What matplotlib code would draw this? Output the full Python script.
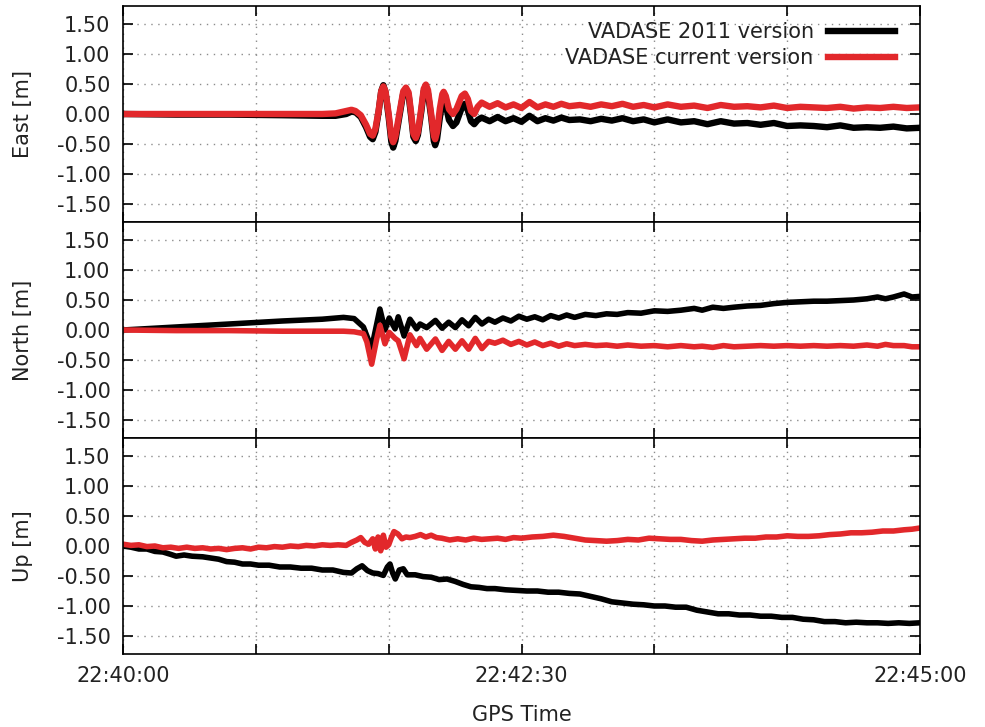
import matplotlib
matplotlib.use('Agg')
import matplotlib.pyplot as plt
from matplotlib.ticker import FormatStrFormatter

plt.rcParams['font.family'] = ['DejaVu Sans']
plt.rcParams['axes.unicode_minus'] = False

RED = '#e2282b'
BLACK = '#000000'
TXT = '#222222'

# ---- East ----
t_east = [0, 20, 40, 60, 75, 80, 84, 86, 87.5, 89.5, 91.5, 93, 94, 95, 96.2, 97.2, 98, 98.8, 100,
          101, 101.7, 102.5, 104, 105.5, 106.5, 107.5, 108.5, 109.3, 110.2, 111, 112.3, 113.2, 114,
          114.8, 116, 117, 117.5, 118.2, 119.3, 120.2, 120.7, 121.5, 122.7, 124.2, 125.5, 127.5,
          128.7, 129.8, 131, 132.2, 133.5,
          135, 138, 141, 144, 147, 150, 153, 156, 159, 162, 165, 168, 172, 176, 180, 184, 188, 192,
          196, 200, 205, 210, 215, 220, 225, 230, 235, 240, 245, 250, 255, 260, 265, 270, 275, 280,
          285, 290, 295, 300]
east_2011 = [0, -0.01, -0.01, -0.02, -0.03, -0.03, 0.0, 0.04, 0.03, -0.05, -0.22, -0.38, -0.42,
             -0.30, 0.03, 0.38, 0.48, 0.36, -0.05, -0.46, -0.56, -0.45, -0.05, 0.35, 0.42, 0.32,
             -0.05, -0.38, -0.45, -0.35, 0.05, 0.38, 0.45, 0.34, -0.05, -0.45, -0.52, -0.42, -0.05,
             0.20, 0.25, 0.15, -0.10, -0.20, -0.14, 0.10, 0.17, 0.06, -0.12, -0.17, -0.10,
             -0.06, -0.12, -0.05, -0.12, -0.07, -0.13, -0.03, -0.12, -0.07, -0.11, -0.06, -0.10, -0.09,
             -0.12, -0.08, -0.11, -0.07, -0.12, -0.09, -0.14, -0.09, -0.14, -0.12, -0.17, -0.12, -0.16,
             -0.15, -0.18, -0.15, -0.20, -0.19, -0.20, -0.22, -0.19, -0.23, -0.22, -0.23, -0.21, -0.24,
             -0.23]
east_cur = [0, 0, 0, 0, 0, 0.01, 0.05, 0.07, 0.05, -0.02, -0.18, -0.33, -0.36, -0.25, 0.05, 0.38,
            0.46, 0.38, 0.0, -0.38, -0.47, -0.38, 0.0, 0.38, 0.44, 0.36, 0.0, -0.33, -0.40, -0.30,
            0.10, 0.42, 0.49, 0.40, 0.0, -0.36, -0.42, -0.30, 0.10, 0.33, 0.37, 0.30, 0.08, 0.0, 0.08,
            0.30, 0.34, 0.25, 0.05, 0.0, 0.12,
            0.19, 0.12, 0.18, 0.11, 0.16, 0.10, 0.20, 0.11, 0.16, 0.12, 0.17, 0.13, 0.15, 0.12, 0.16,
            0.13, 0.17, 0.12, 0.15, 0.11, 0.16, 0.12, 0.14, 0.10, 0.15, 0.12, 0.13, 0.11, 0.14, 0.10,
            0.12, 0.11, 0.10, 0.12, 0.09, 0.11, 0.10, 0.12, 0.10, 0.11]

# ---- North ----
t_north = [0, 20, 40, 60, 75, 83, 87, 90.5, 91.8, 93.6, 95.5, 96.7, 98.6, 100.2, 102.4, 103.6, 105.8,
           108, 110.5, 111.8, 114.3, 117.6, 120.1, 122.6, 125.1, 127.6, 130.1, 132.6, 135.1, 137.6,
           140, 143, 146, 149, 152, 155, 158, 161, 164, 167, 170, 174, 178, 182, 186, 190, 195, 200,
           205, 210, 215, 218, 222, 226, 230, 235, 240, 245, 250, 255, 260, 265, 270, 275, 280, 284,
           287, 290, 294, 297, 300]
north_2011 = [0, 0.05, 0.10, 0.15, 0.18, 0.21, 0.19, 0.05, -0.10, -0.30, 0.10, 0.35, 0.0, 0.20, 0.02,
              0.22, -0.10, 0.18, 0.02, 0.10, 0.04, 0.16, 0.03, 0.13, 0.04, 0.17, 0.07, 0.21, 0.10,
              0.18,
              0.13, 0.20, 0.15, 0.23, 0.18, 0.22, 0.17, 0.24, 0.20, 0.25, 0.21, 0.26, 0.24, 0.27, 0.26,
              0.29, 0.28, 0.32, 0.31, 0.33, 0.36, 0.33, 0.38, 0.36, 0.38, 0.40, 0.41, 0.44, 0.46, 0.47,
              0.48, 0.48, 0.49, 0.50, 0.52, 0.55, 0.52, 0.55, 0.60, 0.55, 0.56]
north_cur = [0, -0.01, -0.01, -0.02, -0.02, -0.02, -0.03, -0.06, -0.20, -0.57, -0.15, 0.08, -0.23,
             -0.04, -0.14, -0.18, -0.48, -0.08, -0.26, -0.14, -0.32, -0.15, -0.34, -0.19, -0.32, -0.18,
             -0.32, -0.14, -0.31, -0.19,
             -0.22, -0.17, -0.24, -0.19, -0.25, -0.20, -0.26, -0.22, -0.27, -0.23, -0.26, -0.24, -0.26,
             -0.25, -0.27, -0.25, -0.27, -0.26, -0.28, -0.26, -0.28, -0.27, -0.29, -0.26, -0.28, -0.27,
             -0.26, -0.27, -0.26, -0.27, -0.26, -0.27, -0.26, -0.27, -0.25, -0.27, -0.24, -0.26, -0.26,
             -0.28, -0.28]

# ---- Up ----
t_up_2011 = [0, 3, 6, 9, 12, 15, 18, 20, 23, 26, 30, 33, 36, 39, 42, 45, 48, 51, 55, 59, 63, 67, 71,
             75, 79, 83, 86, 88, 90, 92, 94, 96, 98, 99.5, 100.5, 101.5, 102.5, 104, 105.5, 107, 110,
             113, 116, 119, 122, 125, 128, 131, 134, 137, 140, 144, 148, 152, 156, 160, 164, 168, 172,
             176, 180, 184, 188, 192, 196, 200, 204, 208, 212, 216, 220, 224, 228, 232, 236, 240, 244,
             248, 252, 256, 260, 264, 268, 272, 276, 280, 284, 288, 292, 296, 300]
up_2011 = [0.0, -0.02, -0.05, -0.05, -0.09, -0.10, -0.14, -0.17, -0.15, -0.17, -0.18, -0.20, -0.22,
           -0.26, -0.27, -0.30, -0.30, -0.32, -0.32, -0.35, -0.35, -0.37, -0.37, -0.40, -0.40, -0.44,
           -0.45, -0.38, -0.33, -0.41, -0.45, -0.46, -0.49, -0.35, -0.30, -0.45, -0.55, -0.40, -0.38,
           -0.48, -0.48, -0.51, -0.52, -0.56, -0.55, -0.59, -0.64, -0.68, -0.69, -0.71, -0.71, -0.73,
           -0.74, -0.75, -0.75, -0.77, -0.77, -0.79, -0.80, -0.84, -0.88, -0.93, -0.95, -0.97, -0.98,
           -1.00, -1.00, -1.02, -1.02, -1.07, -1.10, -1.13, -1.13, -1.15, -1.15, -1.17, -1.17, -1.19,
           -1.19, -1.22, -1.23, -1.26, -1.26, -1.28, -1.27, -1.28, -1.28, -1.29, -1.28, -1.29, -1.28]
t_up_cur = [0, 3, 6, 9, 12, 15, 18, 21, 24, 27, 30, 33, 36, 39, 42, 45, 48, 51, 54, 57, 60, 63, 66,
            69, 72, 75, 78, 81, 84, 86, 88, 89.5, 91, 92.5, 94, 95, 96, 97, 98, 99, 100, 101, 102,
            103.5, 105, 106.5, 108, 110, 112, 114, 116, 118, 120, 123, 126, 129, 132, 135, 138, 141,
            144, 147, 150, 154, 158, 162, 166, 170, 174, 178, 182, 186, 190, 194, 198, 202, 206, 210,
            214, 218, 222, 226, 230, 234, 238, 242, 246, 250, 254, 258, 262, 266, 270, 274, 278, 282,
            286, 290, 294, 297, 300]
up_cur = [0.03, 0.01, 0.02, -0.01, 0.0, -0.03, -0.02, -0.04, -0.02, -0.04, -0.03, -0.05, -0.04,
          -0.06, -0.04, -0.03, -0.05, -0.02, -0.03, -0.01, -0.02, 0.0, -0.01, 0.01, 0.0, 0.02, 0.01,
          0.02, 0.01, 0.06, 0.10, 0.14, 0.06, 0.03, 0.12, -0.05, 0.15, -0.08, 0.18, -0.02, 0.02, 0.14,
          0.24, 0.20, 0.12, 0.15, 0.14, 0.16, 0.19, 0.15, 0.18, 0.14, 0.13, 0.10, 0.12, 0.10, 0.13,
          0.11, 0.12, 0.13, 0.11, 0.14, 0.13, 0.15, 0.16, 0.18, 0.16, 0.13, 0.10, 0.09, 0.08, 0.09,
          0.11, 0.10, 0.13, 0.12, 0.11, 0.11, 0.09, 0.08, 0.10, 0.11, 0.12, 0.13, 0.13, 0.15, 0.15,
          0.17, 0.16, 0.16, 0.17, 0.19, 0.20, 0.22, 0.22, 0.23, 0.25, 0.25, 0.27, 0.28, 0.30]

panels = [('East [m]', t_east, east_2011, t_east, east_cur, 4.6),
          ('North [m]', t_north, north_2011, t_north, north_cur, 4.0),
          ('Up [m]', t_up_2011, up_2011, t_up_cur, up_cur, 4.0)]
yticks = [-1.5, -1.0, -0.5, 0.0, 0.5, 1.0, 1.5]
xticks = [0, 50, 100, 150, 200, 250, 300]
xlabels = ['22:40:00', '', '', '22:42:30', '', '', '22:45:00']

fig = plt.figure(figsize=(9.85, 7.27), dpi=100)
W, H = 985., 727.
edges = [6, 222, 438, 654]
axes = []
for i, (lab, tb, yb, tr, yr, lw) in enumerate(panels):
    ax = fig.add_axes([123 / W, 1 - edges[i + 1] / H, 797 / W, (edges[i + 1] - edges[i]) / H])
    ax.plot(tb, yb, color=BLACK, lw=lw, solid_joinstyle='round', label='VADASE 2011 version')
    ax.plot(tr, yr, color=RED, lw=lw, solid_joinstyle='round', label='VADASE current version')
    ax.set_xlim(0, 300); ax.set_ylim(-1.8, 1.8)
    ax.set_yticks(yticks); ax.yaxis.set_major_formatter(FormatStrFormatter('%.2f'))
    ax.set_xticks(xticks)
    ax.set_xticklabels(xlabels if i == 2 else [''] * len(xticks))
    ax.grid(True, ls=(0, (1, 4)), color='0.55', lw=1.0)
    ax.tick_params(direction='in', length=7, width=1.2, top=True, right=True,
                   labelsize=15, pad=9, labelcolor=TXT)
    for s in ax.spines.values():
        s.set_linewidth(1.2)
    ax.set_ylabel(lab, fontsize=15, color=TXT)
    ax.yaxis.set_label_coords(-0.113, 0.5)
    axes.append(ax)

axes[0].legend(loc='upper right', bbox_to_anchor=(0.9686, 0.925), frameon=False, markerfirst=False,
               fontsize=15, handlelength=3.2, handletextpad=0.7, labelspacing=0.3,
               borderaxespad=0, borderpad=0, labelcolor=TXT)
axes[2].set_xlabel('GPS Time', fontsize=15, color=TXT)
axes[2].xaxis.set_label_coords(0.5, -0.235)

plt.savefig('out.png', dpi=100)
